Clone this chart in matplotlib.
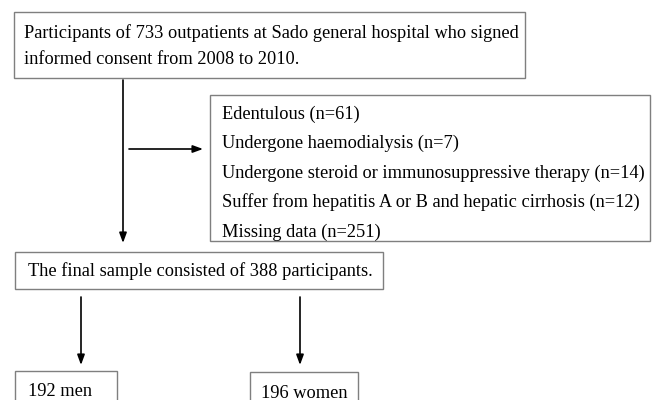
import matplotlib
matplotlib.use("Agg")
import matplotlib.pyplot as plt
import matplotlib.patches as patches

# --- Flowchart content ---
START_LINES = ["Participants of 733 outpatients at Sado general hospital who signed",
               "informed consent from 2008 to 2010."]
EXCLUDED_LABELS = ["Edentulous", "Undergone haemodialysis",
                   "Undergone steroid or immunosuppressive therapy",
                   "Suffer from hepatitis A or B and hepatic cirrhosis",
                   "Missing data"]
EXCLUDED_N = [61, 7, 14, 12, 251]
FINAL_N = 388
GROUP_LABELS = ["men", "women"]
GROUP_N = [192, 196]

W, H = 652, 400
FONT = "Liberation Serif"
FS = 13.2
EDGE = "#7f7f7f"

fig = plt.figure(figsize=(W / 100, H / 100), dpi=100)
ax = fig.add_axes([0, 0, 1, 1])
ax.set_xlim(0, W)
ax.set_ylim(H, 0)
ax.axis("off")


def box(x0, y0, x1, y1):
    ax.add_patch(patches.Rectangle((x0, y0), x1 - x0, y1 - y0, linewidth=1.0,
                                   edgecolor=EDGE, facecolor="white", zorder=2))


def arrow(x0, y0, x1, y1):
    ax.annotate("", xy=(x1, y1), xytext=(x0, y0),
                arrowprops=dict(arrowstyle="-|>,head_length=0.6,head_width=0.22",
                                color="black", lw=1.2, shrinkA=0, shrinkB=0))


def txt(x, y, s):
    ax.text(x, y, s, ha="left", va="center", fontsize=FS, family=FONT, color="black", zorder=3)


# Start box
box(14, 12, 525, 78)
for i, line in enumerate(START_LINES):
    txt(24, 33 + i * 27, line)

# Main vertical arrow and side arrow
arrow(123, 80, 123, 243)
arrow(129, 149, 203, 149)

# Exclusion box
box(210, 95, 650, 241)
for i, (lab, n) in enumerate(zip(EXCLUDED_LABELS, EXCLUDED_N)):
    txt(222, 114 + i * 29.5, f"{lab} (n={n})")

# Final sample box
box(15, 252, 383, 289)
txt(28, 271, f"The final sample consisted of {FINAL_N} participants.")

# Split arrows
arrow(81, 297, 81, 365)
arrow(300, 297, 300, 365)

# Group boxes
box(15, 371, 117, 410)
txt(28, 392, f"{GROUP_N[0]} {GROUP_LABELS[0]}")
box(250, 372, 358, 410)
txt(261, 394, f"{GROUP_N[1]} {GROUP_LABELS[1]}")

fig.savefig("out.png", dpi=100)
